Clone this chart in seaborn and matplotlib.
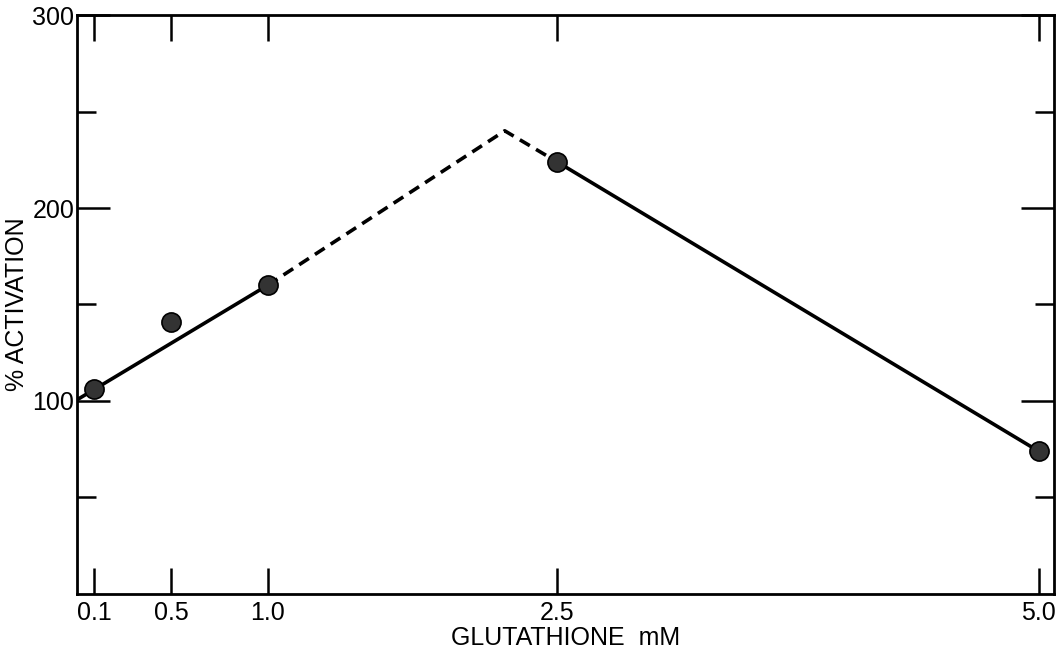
import matplotlib
matplotlib.use("Agg")
import matplotlib.pyplot as plt
import seaborn as sns
from matplotlib.ticker import FixedLocator

# --- data ---
conc_mM = [0.1, 0.5, 1.0, 2.5, 5.0]
activation = [106, 141, 160, 224, 74]

# fitted lines drawn by hand in the original
solid_left_x = [0.0, 1.0]
solid_left_y = [100, 160]
dashed_x = [1.0, 2.23, 2.5]
dashed_y = [160, 240, 224]
solid_right_x = [2.5, 5.0]
solid_right_y = [224, 74]

x_ticks = [0.1, 0.5, 1.0, 2.5, 5.0]
x_ticklabels = ["0.1", "0.5", "1.0", "2.5", "5.0"]
y_major = [100, 200, 300]
y_minor = [50, 150, 250]

# --- style ---
sns.set_style("ticks")
plt.rcParams["font.family"] = ["Liberation Sans", "DejaVu Sans"]
plt.rcParams["font.size"] = 18
for key in ["text.color", "axes.labelcolor", "xtick.color", "ytick.color"]:
    plt.rcParams[key] = "black"

fig = plt.figure(figsize=(10.6, 6.53), dpi=100)
ax = fig.add_axes([0.0726, 0.0904, 0.9217, 0.8866])

lw = 2.6
sns.lineplot(x=solid_left_x, y=solid_left_y, color="black", linewidth=lw,
             estimator=None, sort=False, ax=ax)
sns.lineplot(x=dashed_x, y=dashed_y, color="black", linewidth=lw,
             linestyle=(0, (3.2, 2.0)), estimator=None, sort=False, ax=ax)
sns.lineplot(x=solid_right_x, y=solid_right_y, color="black", linewidth=lw,
             estimator=None, sort=False, ax=ax)
sns.scatterplot(x=conc_mM, y=activation, s=190, color="#333333",
                edgecolor="black", linewidth=1.2, zorder=5, ax=ax)

ax.set_xlim(0.01, 5.08)
ax.set_ylim(0, 300)

ax.xaxis.set_major_locator(FixedLocator(x_ticks))
ax.set_xticklabels(x_ticklabels)
ax.yaxis.set_major_locator(FixedLocator(y_major))
ax.yaxis.set_minor_locator(FixedLocator(y_minor))

ax.tick_params(axis="x", which="major", direction="in", length=19, width=1.8,
               top=True, bottom=True, labeltop=False, pad=5, labelsize=18)
ax.tick_params(axis="y", which="major", direction="in", length=24, width=1.8,
               left=True, right=True, labelright=False, pad=2, labelsize=18)
ax.tick_params(axis="y", which="minor", direction="in", length=14, width=1.8,
               left=True, right=True)

for side in ["left", "right", "top", "bottom"]:
    ax.spines[side].set_visible(True)
    ax.spines[side].set_linewidth(2.0)
    ax.spines[side].set_color("black")

ax.set_xlabel("GLUTATHIONE  mM", fontsize=18, labelpad=1)
ax.set_ylabel("% ACTIVATION", fontsize=18, labelpad=2)

fig.savefig("out.png", dpi=100)
